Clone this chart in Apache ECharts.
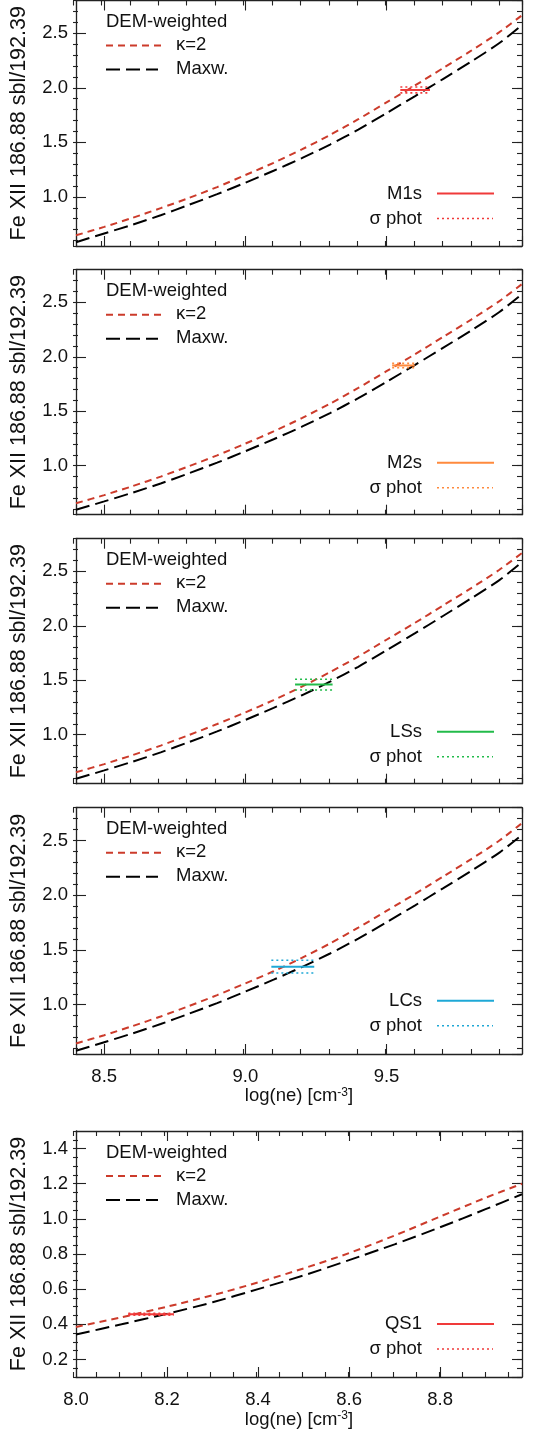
<!DOCTYPE html>
<html>
<head>
<meta charset="utf-8">
<script src="https://cdn.jsdelivr.net/npm/echarts@6/dist/echarts.min.js"></script>
<style>
html,body{margin:0;padding:0;background:#fff;}
#chart{width:544px;height:1437px;}
</style>
</head>
<body>
<div id="chart"></div>
<script>
// ---------- data ----------
const xAR = [8.4, 8.5, 8.6, 8.7, 8.8, 8.9, 9.0, 9.1, 9.2, 9.3, 9.4, 9.5, 9.6, 9.7, 9.8, 9.9, 9.98];
const kappaM1s = [0.648, 0.725, 0.808, 0.897, 0.99, 1.09, 1.2, 1.312, 1.435, 1.568, 1.712, 1.866, 2.02, 2.18, 2.34, 2.51, 2.665];
const maxwM1s  = [0.585, 0.665, 0.745, 0.832, 0.927, 1.025, 1.13, 1.24, 1.355, 1.48, 1.617, 1.768, 1.922, 2.08, 2.24, 2.41, 2.575];
const kappaM2s = [0.655, 0.73, 0.812, 0.9, 0.995, 1.095, 1.203, 1.315, 1.437, 1.57, 1.714, 1.868, 2.022, 2.182, 2.342, 2.512, 2.668];
const maxwM2s  = [0.595, 0.672, 0.752, 0.837, 0.93, 1.028, 1.133, 1.243, 1.358, 1.483, 1.62, 1.77, 1.924, 2.082, 2.242, 2.412, 2.576];
const kappaLSs = [0.655, 0.73, 0.812, 0.9, 0.997, 1.098, 1.205, 1.318, 1.441, 1.575, 1.718, 1.872, 2.026, 2.186, 2.346, 2.515, 2.668];
const maxwLSs  = [0.595, 0.672, 0.752, 0.838, 0.932, 1.03, 1.136, 1.246, 1.362, 1.487, 1.624, 1.775, 1.93, 2.09, 2.252, 2.42, 2.585];
const kappaLCs = [0.646, 0.722, 0.805, 0.893, 0.988, 1.088, 1.195, 1.306, 1.428, 1.56, 1.704, 1.857, 2.011, 2.17, 2.33, 2.5, 2.659];
const maxwLCs  = [0.579, 0.658, 0.738, 0.824, 0.918, 1.015, 1.12, 1.229, 1.344, 1.468, 1.604, 1.753, 1.906, 2.063, 2.223, 2.39, 2.552];

const xQS = [8.0, 8.1, 8.2, 8.3, 8.4, 8.5, 8.6, 8.7, 8.8, 8.9, 8.98];
const kappaQS1 = [0.385, 0.44, 0.50, 0.565, 0.638, 0.718, 0.805, 0.905, 1.013, 1.12, 1.20];
const maxwQS1  = [0.342, 0.40, 0.46, 0.525, 0.60, 0.678, 0.765, 0.855, 0.952, 1.055, 1.14];

const regionNames = ['M1s', 'M2s', 'LSs', 'LCs', 'QS1'];
const obsLogNe = [[9.549, 9.654], [9.52, 9.60], [9.176, 9.309], [9.092, 9.244], [8.115, 8.215]];
const obsRatio = [1.98, 1.92, 1.46, 1.348, 0.457];
const sigmaPhot = [0.027, 0.02, 0.049, 0.058, 0.005];
const regionColors = ['#f03a3a', '#ff8a3d', '#22bb4a', '#1ea8d6', '#f03a3a'];

const curveX = [xAR, xAR, xAR, xAR, xQS];
const kappaCurves = [kappaM1s, kappaM2s, kappaLSs, kappaLCs, kappaQS1];
const maxwCurves = [maxwM1s, maxwM2s, maxwLSs, maxwLCs, maxwQS1];

const xRanges = [[8.4, 9.98], [8.4, 9.98], [8.4, 9.98], [8.4, 9.98], [8.0, 8.98]];
const yRanges = [[0.55, 2.8], [0.55, 2.8], [0.55, 2.8], [0.55, 2.8], [0.1, 1.5]];
const xSteps = [[0.5, 0.1], [0.5, 0.1], [0.5, 0.1], [0.5, 0.1], [0.2, 0.05]];
const ySteps = [[0.5, 0.1], [0.5, 0.1], [0.5, 0.1], [0.5, 0.1], [0.2, 0.05]];
const showXLabels = [false, false, false, true, true];

const yTitle = 'Fe XII 186.88 sbl/192.39';
const legendTitle = 'DEM-weighted';
const kappaLabel = 'κ=2';
const maxwLabel = 'Maxw.';
const sigmaLabel = 'σ phot';

// ---------- layout ----------
const FONT = '"Liberation Sans", Arial, Helvetica, sans-serif';
const LEFT = 73, RIGHT = 22;
const tops = [0.5, 269.7, 538.7, 807.7, 1131];
const heights = [245.5, 245, 245, 246.3, 246];
const AXC = '#222';
const KAPPA_COLOR = '#cc3b2b';

const grids = [], xAxes = [], yAxes = [], series = [], graphics = [];

function axisBase(min, max, step, major) {
  return {
    type: 'value', min: min, max: max,
    minInterval: step, maxInterval: step, splitNumber: 5,
    scale: true,
    splitLine: {show: false},
    axisLine: {show: major, onZero: false, lineStyle: {color: AXC, width: 1.3}},
    axisTick: {show: true, inside: true, length: major ? 10 : 5, lineStyle: {color: AXC, width: 1.1}},
    axisLabel: {show: false},
    silent: true
  };
}

for (let p = 0; p < 5; p++) {
  const gMajor = grids.length;
  grids.push({left: LEFT, right: RIGHT, top: tops[p], height: heights[p], containLabel: false});
  grids.push({left: LEFT, right: RIGHT, top: tops[p], height: heights[p], containLabel: false});
  const gMinor = gMajor + 1;
  const [xmin, xmax] = xRanges[p];
  const [ymin, ymax] = yRanges[p];

  const xb = axisBase(xmin, xmax, xSteps[p][0], true);
  xb.gridIndex = gMajor; xb.position = 'bottom';
  if (showXLabels[p]) {
    xb.axisLabel = {show: true, margin: 13, fontFamily: FONT, fontSize: 18.5, color: '#111',
      showMinLabel: p === 4, showMaxLabel: false,
      formatter: v => v.toFixed(1)};
    xb.name = '{a|log(ne) [cm}{s|-3}{a|]}';
    xb.nameLocation = 'middle';
    xb.nameGap = p === 4 ? 33 : 31;
    xb.nameTextStyle = {fontFamily: FONT, color: '#111',
      rich: {a: {fontFamily: FONT, fontSize: 18.5, color: '#111'},
             s: {fontFamily: FONT, fontSize: 12, color: '#111', verticalAlign: 'top'}}};
  }
  const xbIdx = xAxes.length; xAxes.push(xb);
  const xt = axisBase(xmin, xmax, xSteps[p][0], true);
  xt.gridIndex = gMajor; xt.position = 'top'; xAxes.push(xt);

  const yl = axisBase(ymin, ymax, ySteps[p][0], true);
  yl.gridIndex = gMajor; yl.position = 'left';
  yl.axisLabel = {show: true, margin: 8, fontFamily: FONT, fontSize: 18.5, color: '#111',
    showMinLabel: false, showMaxLabel: false, formatter: v => v.toFixed(1)};
  yl.name = yTitle; yl.nameLocation = 'middle'; yl.nameGap = 46;
  yl.nameTextStyle = {fontFamily: FONT, fontSize: 21.5, color: '#111'};
  const ylIdx = yAxes.length; yAxes.push(yl);
  const yr = axisBase(ymin, ymax, ySteps[p][0], true);
  yr.gridIndex = gMajor; yr.position = 'right'; yAxes.push(yr);

  const mxb = axisBase(xmin, xmax, xSteps[p][1], false); mxb.gridIndex = gMinor; mxb.position = 'bottom'; xAxes.push(mxb);
  const mxt = axisBase(xmin, xmax, xSteps[p][1], false); mxt.gridIndex = gMinor; mxt.position = 'top'; xAxes.push(mxt);
  const myl = axisBase(ymin, ymax, ySteps[p][1], false); myl.gridIndex = gMinor; myl.position = 'left'; yAxes.push(myl);
  const myr = axisBase(ymin, ymax, ySteps[p][1], false); myr.gridIndex = gMinor; myr.position = 'right'; yAxes.push(myr);

  const xs = curveX[p];
  series.push({
    type: 'line', xAxisIndex: xbIdx, yAxisIndex: ylIdx, showSymbol: false, symbol: 'none', smooth: 0.25,
    data: xs.map((x, i) => [x, maxwCurves[p][i]]),
    lineStyle: {color: '#000', width: 2, type: [14, 6]}, z: 3, silent: true
  });
  series.push({
    type: 'line', xAxisIndex: xbIdx, yAxisIndex: ylIdx, showSymbol: false, symbol: 'none', smooth: 0.25,
    data: xs.map((x, i) => [x, kappaCurves[p][i]]),
    lineStyle: {color: KAPPA_COLOR, width: 2, type: [7, 5]}, z: 3, silent: true
  });
  const col = regionColors[p];
  const [x0, x1] = obsLogNe[p];
  const yv = obsRatio[p], sg = sigmaPhot[p];
  series.push({
    type: 'line', xAxisIndex: xbIdx, yAxisIndex: ylIdx, symbol: 'none',
    data: [[x0, yv], [x1, yv]], lineStyle: {color: col, width: 2}, z: 5, silent: true
  });
  [yv + sg, yv - sg].forEach(yy => series.push({
    type: 'line', xAxisIndex: xbIdx, yAxisIndex: ylIdx, symbol: 'none',
    data: [[x0, yy], [x1, yy]], lineStyle: {color: col, width: 1.6, type: [2, 3]}, z: 5, silent: true
  }));

  const T = tops[p];
  const ts = {fontFamily: FONT, fontSize: 18.5, fill: '#111'};
  graphics.push({type: 'text', left: 106, top: T + 12, style: Object.assign({text: legendTitle}, ts)});
  graphics.push({type: 'line', shape: {x1: 106, y1: T + 45, x2: 164, y2: T + 45},
    style: {stroke: KAPPA_COLOR, lineWidth: 2, lineDash: [7, 5]}});
  graphics.push({type: 'text', left: 176, top: T + 35, style: Object.assign({text: kappaLabel}, ts)});
  graphics.push({type: 'line', shape: {x1: 106, y1: T + 69, x2: 158, y2: T + 69},
    style: {stroke: '#000', lineWidth: 2, lineDash: [14, 6]}});
  graphics.push({type: 'text', left: 176, top: T + 59, style: Object.assign({text: maxwLabel}, ts)});
  graphics.push({type: 'text', x: 422, y: T + 193,
    style: Object.assign({text: regionNames[p], align: 'right', verticalAlign: 'middle'}, ts)});
  graphics.push({type: 'line', shape: {x1: 437, y1: T + 193, x2: 494, y2: T + 193},
    style: {stroke: col, lineWidth: 2}});
  graphics.push({type: 'text', x: 422, y: T + 218,
    style: Object.assign({text: sigmaLabel, align: 'right', verticalAlign: 'middle'}, ts)});
  graphics.push({type: 'line', shape: {x1: 437, y1: T + 218, x2: 493, y2: T + 218},
    style: {stroke: col, lineWidth: 1.6, lineDash: [2, 3]}});
}

const chart = echarts.init(document.getElementById('chart'), null, {renderer: 'canvas'});
chart.setOption({
  backgroundColor: '#fff',
  animation: false,
  grid: grids,
  xAxis: xAxes,
  yAxis: yAxes,
  series: series,
  graphic: graphics
});
</script>
</body>
</html>
